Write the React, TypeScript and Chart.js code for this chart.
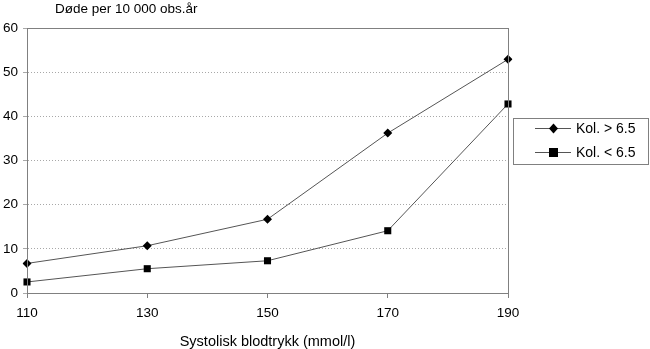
import React, { useEffect, useRef } from "react";
import { Chart, registerables } from "chart.js";

Chart.register(...registerables);

const categories = ["110", "130", "150", "170", "190"];
const seriesNames = ["Kol. > 6.5", "Kol. < 6.5"];
const kolHigh = [6.7, 10.7, 16.7, 36.2, 52.9];
const kolLow = [2.5, 5.5, 7.3, 14.1, 42.8];
const yTitle = "Døde per 10 000 obs.år";
const xTitle = "Systolisk blodtrykk (mmol/l)";

const FONT = "'Liberation Sans', Arial, sans-serif";

const framePlugin = {
  id: "frame",
  afterDraw(chart: any) {
    const ctx = chart.ctx;
    const a = chart.chartArea;
    ctx.save();
    ctx.strokeStyle = "#808080";
    ctx.lineWidth = 1;
    ctx.setLineDash([]);
    ctx.strokeRect(Math.round(a.left) + 0.5, Math.round(a.top) + 0.5, Math.round(a.right - a.left), Math.round(a.bottom - a.top));
    // top title
    ctx.fillStyle = "#000";
    ctx.font = `13.5px ${FONT}`;
    ctx.textAlign = "left";
    ctx.textBaseline = "middle";
    ctx.fillText(yTitle, 55, 9);
    // legend
    const bx = 513.5, by = 118.5, bw = 135, bh = 46;
    ctx.strokeStyle = "#808080";
    ctx.strokeRect(bx, by, bw, bh);
    chart.data.datasets.forEach((ds: any, i: number) => {
      const y = 128 + i * 24;
      ctx.strokeStyle = ds.borderColor;
      ctx.lineWidth = 1;
      ctx.beginPath();
      ctx.moveTo(535, y + 0.5);
      ctx.lineTo(571, y + 0.5);
      ctx.stroke();
      ctx.fillStyle = "#000";
      if (ds.pointStyle === "rect") {
        ctx.fillRect(549, y - 4, 9, 9);
      } else {
        ctx.beginPath();
        ctx.moveTo(553.5, y - 4.5);
        ctx.lineTo(558, y + 0.5);
        ctx.lineTo(553.5, y + 5.5);
        ctx.lineTo(549, y + 0.5);
        ctx.closePath();
        ctx.fill();
      }
      ctx.font = `14px ${FONT}`;
      ctx.textAlign = "left";
      ctx.textBaseline = "middle";
      ctx.fillText(ds.label, 576, y + 1);
    });
    ctx.restore();
  },
};

export default function App() {
  const ref = useRef<HTMLCanvasElement>(null);
  useEffect(() => {
    if (!ref.current) return;
    const chart = new Chart(ref.current, {
      type: "line",
      data: {
        labels: categories,
        datasets: [
          {
            label: seriesNames[0],
            data: kolHigh,
            borderColor: "#555555",
            borderWidth: 1,
            pointStyle: "rectRot",
            pointRadius: 4.5,
            pointBackgroundColor: "#000",
            pointBorderColor: "#000",
            pointBorderWidth: 0,
          },
          {
            label: seriesNames[1],
            data: kolLow,
            borderColor: "#555555",
            borderWidth: 1,
            pointStyle: "rect",
            pointRadius: 5,
            pointBackgroundColor: "#000",
            pointBorderColor: "#000",
            pointBorderWidth: 0,
          },
        ],
      },
      options: {
        responsive: false,
        animation: false,
        layout: { padding: { left: 0, right: 142, top: 28, bottom: 0 } },
        plugins: { legend: { display: false }, title: { display: false }, tooltip: { enabled: false } },
        scales: {
          x: {
            offset: false,
            grid: { display: true, drawOnChartArea: false, drawTicks: true, tickLength: 5, color: "#808080" },
            border: { display: true, color: "#808080" },
            ticks: { color: "#000", font: { family: FONT, size: 13.5 }, padding: 7, maxRotation: 0 },
            title: { display: true, text: xTitle, color: "#000", font: { family: FONT, size: 14.5 }, padding: { top: 0, bottom: -2 } },
            afterFit: (s: any) => { s.height = 56; },
          },
          y: {
            min: 0,
            max: 60,
            ticks: { stepSize: 10, color: "#000", font: { family: FONT, size: 13.5 }, padding: 5 },
            grid: { color: "#a8a8a8", tickLength: 4 } as any,
            border: { display: true, color: "#808080", dash: [1, 2] } as any,
            afterFit: (s: any) => { s.width = 27; },
          },
        },
      },
      plugins: [framePlugin],
    });
    return () => chart.destroy();
  }, []);
  return (
    <div style={{ position: "fixed", left: 0, top: 0, width: 650, height: 349, background: "#fff" }}>
      <canvas ref={ref} width={650} height={349} />
    </div>
  );
}
